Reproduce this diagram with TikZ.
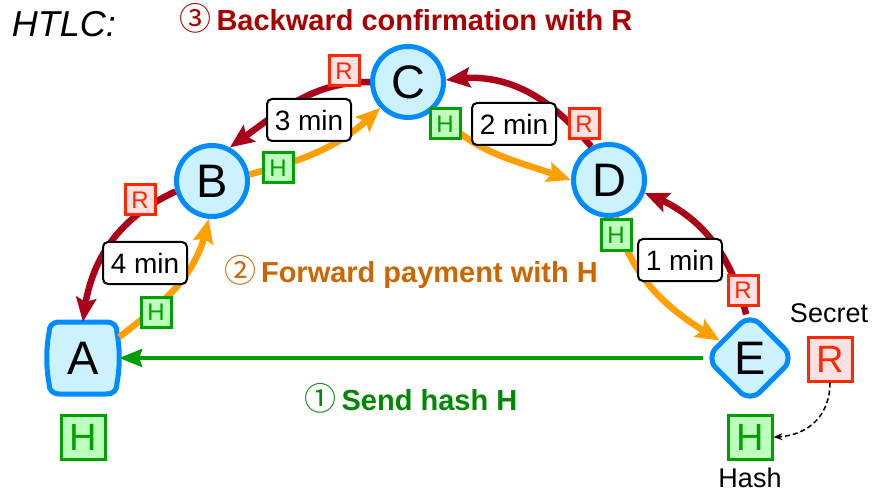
\documentclass[tikz,border=0pt]{standalone}
\usepackage{fontspec}
\setmainfont{Liberation Sans}
\newfontfamily\circfont{Noto Sans CJK JP}
\usetikzlibrary{arrows.meta,shapes.geometric,calc,bending}
\definecolor{nfill}{RGB}{204,242,255}
\definecolor{nborder}{RGB}{0,140,255}
\definecolor{darkred}{RGB}{170,0,25}
\definecolor{orangeline}{RGB}{255,159,0}
\definecolor{greenline}{RGB}{0,160,0}
\definecolor{hgreen}{RGB}{0,160,0}
\definecolor{hfill}{RGB}{190,255,190}
\definecolor{rred}{RGB}{255,40,0}
\definecolor{rfill}{RGB}{255,225,228}
\definecolor{titlered}{RGB}{170,0,0}
\definecolor{titleorange}{RGB}{204,102,0}
\definecolor{titlegreen}{RGB}{0,136,0}
\begin{document}
\begin{tikzpicture}[x=1pt,y=1pt,
  circnode/.style={circle, draw=nborder, fill=nfill, line width=5pt, minimum size=71pt, inner sep=0pt, font=\fontsize{47}{47}\selectfont},
  diamnode/.style={diamond, draw=nborder, fill=nfill, line width=5pt, minimum size=90pt, inner sep=0pt, rounded corners=14pt, font=\fontsize{47}{47}\selectfont},
  hsmall/.style={rectangle, draw=hgreen, fill=hfill, line width=3pt, minimum size=30pt, inner sep=0pt, text=hgreen, font=\fontsize{24}{24}\selectfont},
  rsmall/.style={rectangle, draw=rred, fill=rfill, line width=3pt, minimum size=30pt, inner sep=0pt, text=rred, font=\fontsize{24}{24}\selectfont},
  hbig/.style={rectangle, draw=hgreen, fill=hfill, line width=3pt, minimum size=44pt, inner sep=0pt, text=hgreen, font=\fontsize{38}{38}\selectfont},
  rbig/.style={rectangle, draw=rred, fill=rfill, line width=3pt, minimum size=44pt, inner sep=0pt, text=rred, font=\fontsize{38}{38}\selectfont},
  timebox/.style={rectangle, draw=black, fill=white, rounded corners=5pt, line width=2pt, minimum width=84pt, minimum height=42pt, inner sep=0pt, font=\fontsize{28}{28}\selectfont},
  redarrow/.style={draw=darkred, line width=6.5pt, -{Stealth[length=24pt,width=20pt,inset=4pt]}},
  orangearrow/.style={draw=orangeline, line width=6.5pt, -{Stealth[length=24pt,width=20pt,inset=4pt]}},
  greenarrow/.style={draw=greenline, line width=4pt, -{Stealth[length=23pt,width=18pt,inset=3pt]}},
  dasharrow/.style={draw=black, line width=1.5pt, dash pattern=on 5pt off 3pt, -{Stealth[length=9pt,width=7pt]}},
  titlestyle/.style={anchor=base, font=\fontsize{29}{29}\selectfont\bfseries},
  plainlabel/.style={anchor=base, font=\fontsize{27}{27}\selectfont}
]
\useasboundingbox (0,0) rectangle (874,493);

% node A: rounded box with slightly bulging sides
\begin{scope}[shift={(83,135)}]
\draw[draw=nborder, fill=nfill, line width=5pt]
  (-23,36) -- (23,36)
  .. controls (31,36) and (34,32) .. (34,25)
  .. controls (37,9) and (37,-9) .. (34,-25)
  .. controls (34,-32) and (31,-36) .. (23,-36)
  -- (-23,-36)
  .. controls (-31,-36) and (-34,-32) .. (-34,-25)
  .. controls (-37,-9) and (-37,9) .. (-34,25)
  .. controls (-34,32) and (-31,36) .. (-23,36) -- cycle;
\end{scope}
\node[rectangle, minimum size=72pt, inner sep=0pt, font=\fontsize{47}{47}\selectfont] (A) at (83,135) {A};
\node[circnode] (B) at (212,312) {B};
\node[circnode] (C) at (408,411) {C};
\node[circnode] (D) at (609,313) {D};
\node[diamnode] (E) at (750,135) {E};

% green hash message
\draw[greenarrow] (E) -- (A);

% backward (red)
\draw[redarrow] (C.west) to[out=180,in=35] (B.62);
\draw[redarrow] (B.196) to[out=205,in=85] (A.north);
\draw[redarrow] (D.118) to[out=130,in=10] (C.3);
\draw[redarrow] (E.95) to[out=105,in=-20] (D.-20);

% forward (orange)
\draw[orangearrow] (A.30) to[out=38,in=-100] (B.265);
\draw[orangearrow] (B.10) to[out=15,in=225] (C.223);
\draw[orangearrow] (C.-45) to[out=-50,in=160] (D.180);
\draw[orangearrow] (D.-80) to[out=-75,in=150] (E.150);

% H boxes
\node[hsmall] (HB) at (278,325) {H};
\node[hsmall] (HC) at (445,369) {H};
\node[hsmall] (HD) at (616,258) {H};
\node[hsmall] (HA) at (156,181) {H};
\node[hbig] (HAb) at (83,56) {H};
\node[hbig] (HEb) at (750,56) {H};

% R boxes
\node[rsmall] (RC) at (344,422) {R};
\node[rsmall] (RB) at (140,293) {R};
\node[rsmall] (RD) at (584,369) {R};
\node[rsmall] (RE) at (743,203) {R};
\node[rbig] (RS) at (830,134) {R};

\draw[dasharrow] (RS.south) to[out=-90,in=0,looseness=1.1] (HEb.east);

% time labels
\node[timebox] (m3) at (309,373) {3 min};
\node[timebox] (m2) at (514,369) {2 min};
\node[timebox] (m4) at (145,230) {4 min};
\node[timebox] (m1) at (680,233) {1 min};

% texts
\node[anchor=base, font=\fontsize{36}{36}\selectfont\itshape] (htlc) at (64,456) {HTLC:};
\node[titlestyle, text=titlered] (t3) at (406,462) {{\circfont\mdseries\fontsize{32}{32}\selectfont ③}\,Backward confirmation with R};
\node[titlestyle, text=titleorange] (t2) at (411,211) {{\circfont\mdseries\fontsize{32}{32}\selectfont ②}\,Forward payment with H};
\node[titlestyle, text=titlegreen] (t1) at (411,83) {{\circfont\mdseries\fontsize{32}{32}\selectfont ①}\,Send hash H};
\node[plainlabel] (secret) at (829,171) {Secret};
\node[plainlabel] (hash) at (750,6) {Hash};
\end{tikzpicture}
\end{document}
